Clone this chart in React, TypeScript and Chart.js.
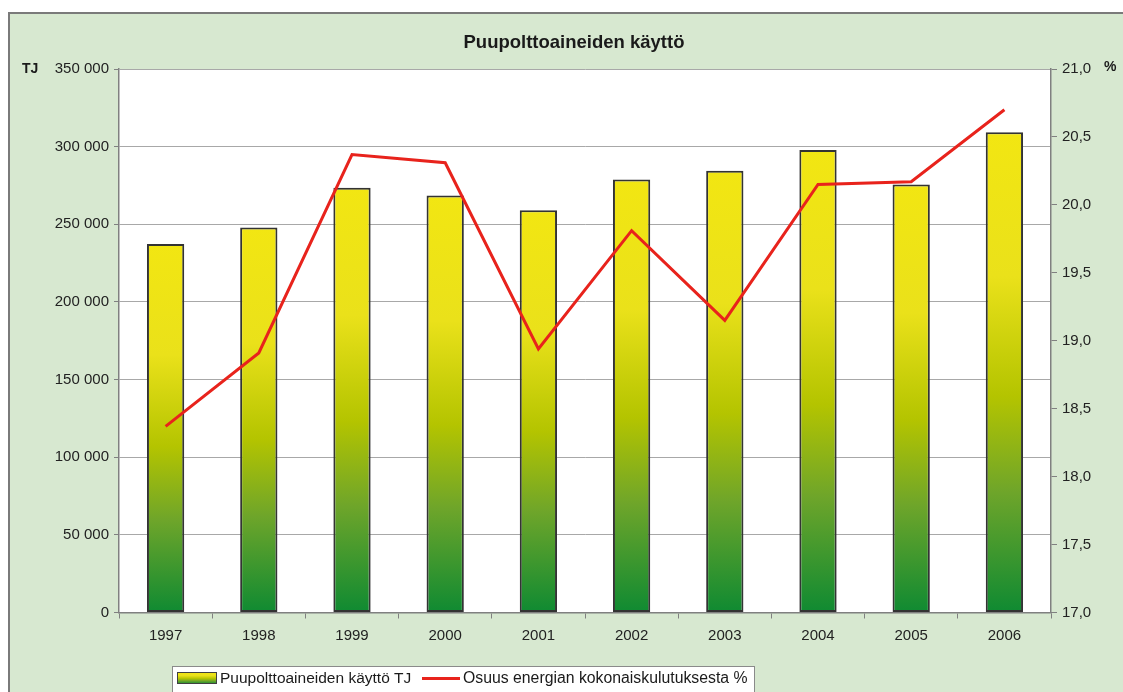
import React, { useEffect, useRef } from "react";
import { Chart, registerables } from "chart.js";

Chart.register(...registerables);

const years = ["1997", "1998", "1999", "2000", "2001", "2002", "2003", "2004", "2005", "2006"];
const usageTJ = [237300, 248000, 273500, 268500, 259000, 278800, 284500, 297900, 275700, 309300];
const sharePct = [18.37, 18.91, 20.37, 20.31, 18.94, 19.81, 19.15, 20.15, 20.17, 20.7];

const titleText = "Puupolttoaineiden käyttö";
const leftUnit = "TJ";
const rightUnit = "%";
const legendBar = "Puupolttoaineiden käyttö TJ";
const legendLine = "Osuus energian kokonaiskulutuksesta %";

const FONT = "'Liberation Sans', Arial, sans-serif";
const W = 1123;
const H = 692;

function barGradient(c: CanvasRenderingContext2D, top: number, bottom: number) {
  const g = c.createLinearGradient(0, top, 0, bottom);
  g.addColorStop(0, "#f2e612");
  g.addColorStop(0.3, "#eae11a");
  g.addColorStop(0.55, "#b4c400");
  g.addColorStop(0.75, "#6ea52a");
  g.addColorStop(1, "#0f8a32");
  return g;
}

const decorPlugin = {
  id: "decor",
  beforeDraw(chart: any) {
    const c = chart.ctx as CanvasRenderingContext2D;
    const a = chart.chartArea;
    c.save();
    c.fillStyle = "#ffffff";
    c.fillRect(0, 0, W, H);
    c.fillStyle = "#d7e8d0";
    c.fillRect(8, 12, W - 8, H - 12);
    c.strokeStyle = "#7a7a7a";
    c.lineWidth = 2;
    c.beginPath();
    c.moveTo(8, 13);
    c.lineTo(W, 13);
    c.moveTo(9, 12);
    c.lineTo(9, H);
    c.stroke();
    c.fillStyle = "#ffffff";
    c.fillRect(a.left, a.top, a.right - a.left, a.bottom - a.top);
    c.restore();
  },
  afterDraw(chart: any) {
    const c = chart.ctx as CanvasRenderingContext2D;
    const a = chart.chartArea;
    c.save();
    c.fillStyle = "#1a1a1a";
    c.textBaseline = "middle";
    c.font = `bold 18.5px ${FONT}`;
    c.textAlign = "center";
    c.fillText(titleText, 574, 43);
    c.font = `bold 14px ${FONT}`;
    c.textAlign = "left";
    c.fillText(leftUnit, 22, a.top);
    c.fillText(rightUnit, 1104, a.top - 2);

    // legend
    const lx = 172;
    const ly = 666;
    const lw = 582;
    const lh = 26;
    c.fillStyle = "#ffffff";
    c.fillRect(lx, ly, lw, lh);
    c.strokeStyle = "#8a8a8a";
    c.lineWidth = 1;
    c.strokeRect(lx + 0.5, ly + 0.5, lw, lh);
    c.fillStyle = barGradient(c, 672, 684);
    c.fillRect(177, 672, 39, 12);
    c.strokeStyle = "#404040";
    c.strokeRect(177.5, 672.5, 39, 11);
    c.font = `15.5px ${FONT}`;
    c.fillStyle = "#1a1a1a";
    c.fillText(legendBar, 220, 679);
    c.strokeStyle = "#e8231c";
    c.lineWidth = 3;
    c.beginPath();
    c.moveTo(422, 678.5);
    c.lineTo(460, 678.5);
    c.stroke();
    c.fillStyle = "#1a1a1a";
    c.font = `15.8px ${FONT}`;
    c.fillText(legendLine, 463, 679);
    c.restore();
  },
};

export default function App() {
  const ref = useRef<HTMLCanvasElement | null>(null);

  useEffect(() => {
    if (!ref.current) return;
    const chart = new Chart(ref.current, {
      type: "bar",
      data: {
        labels: years,
        datasets: [
          {
            type: "line",
            label: legendLine,
            data: sharePct,
            yAxisID: "y1",
            borderColor: "#e8231c",
            borderWidth: 3,
            pointRadius: 0,
            tension: 0,
            order: 0,
          } as any,
          {
            type: "bar",
            label: legendBar,
            data: usageTJ,
            yAxisID: "y",
            order: 1,
            barPercentage: 0.4,
            categoryPercentage: 1,
            borderColor: "#333333",
            borderWidth: 2,
            borderSkipped: false,
            backgroundColor: (ctx: any) => {
              const chart = ctx.chart;
              const ys = chart.scales && chart.scales.y;
              if (!chart.chartArea || !ys || typeof ctx.raw !== "number") return "#e0dc10";
              const top = ys.getPixelForValue(ctx.raw);
              const bottom = ys.getPixelForValue(0);
              return barGradient(chart.ctx, top, bottom);
            },
          } as any,
        ],
      },
      options: {
        animation: false,
        responsive: false,
        maintainAspectRatio: false,
        layout: { padding: { left: 0, right: 0, top: 69, bottom: 49.5 } },
        plugins: {
          legend: { display: false },
          title: { display: false },
          tooltip: { enabled: false },
        },
        scales: {
          x: {
            offset: true,
            grid: {
              display: true,
              drawOnChartArea: false,
              tickLength: 6,
              color: "#808080",
              offset: true,
            },
            border: { color: "#808080", width: 1.5 },
            ticks: {
              color: "#222222",
              font: { family: FONT, size: 15 },
              padding: 8,
            },
            afterFit: (s: any) => {
              s.height = 30;
            },
          },
          y: {
            position: "left",
            min: 0,
            max: 350000,
            ticks: {
              stepSize: 50000,
              color: "#222222",
              font: { family: FONT, size: 15 },
              padding: 5,
              callback: (v: any) => String(v).replace(/\B(?=(\d{3})+(?!\d))/g, " "),
            },
            grid: { color: "#a8a8a8", lineWidth: 1, tickLength: 5, tickColor: "#808080" },
            border: { color: "#808080", width: 1.5 },
            afterFit: (s: any) => {
              s.width = 119;
            },
          },
          y1: {
            position: "right",
            min: 17,
            max: 21,
            ticks: {
              stepSize: 0.5,
              color: "#222222",
              font: { family: FONT, size: 15 },
              padding: 5,
              callback: (v: any) => Number(v).toFixed(1).replace(".", ","),
            },
            grid: { drawOnChartArea: false, tickLength: 6, color: "#808080" },
            border: { color: "#808080", width: 1.5 },
            afterFit: (s: any) => {
              s.width = 72;
            },
          },
        },
      },
      plugins: [decorPlugin],
    });
    return () => chart.destroy();
  }, []);

  return (
    <div style={{ position: "absolute", left: 0, top: 0, width: W, height: H, overflow: "hidden" }}>
      <canvas ref={ref} width={W} height={H} style={{ display: "block", width: W, height: H }} />
    </div>
  );
}
